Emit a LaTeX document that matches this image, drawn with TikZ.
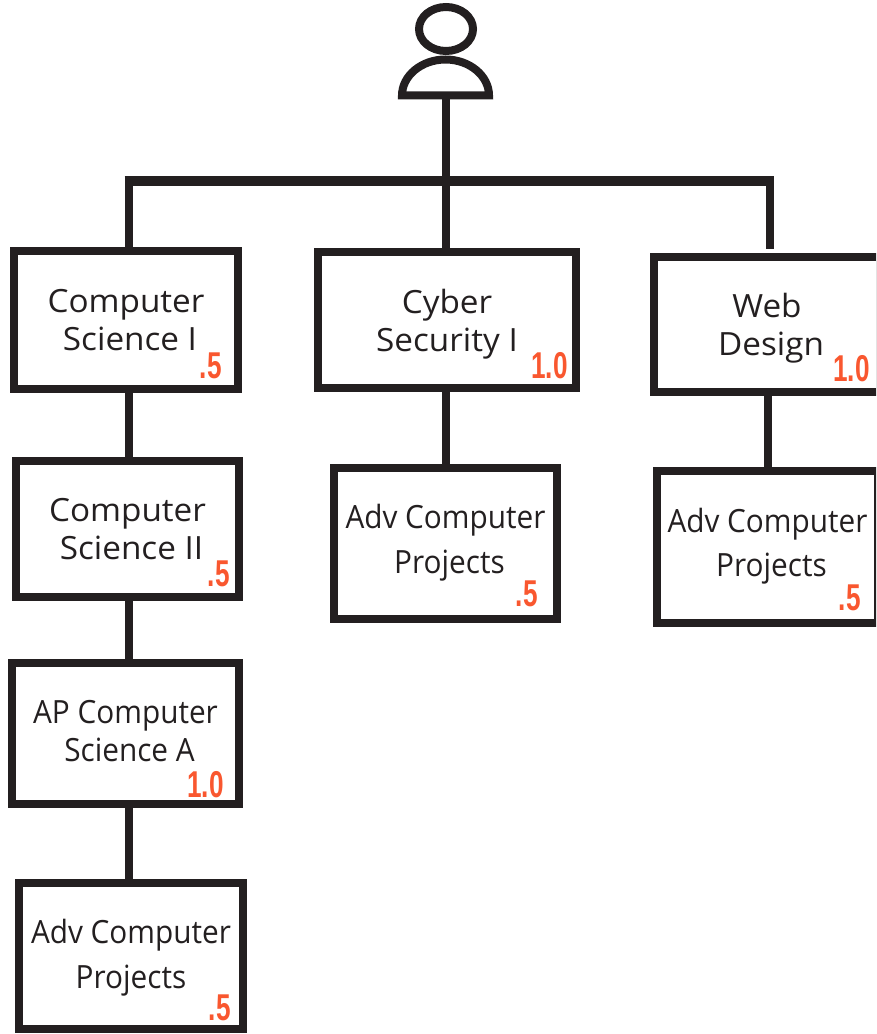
\documentclass[tikz,border=0pt]{standalone}
\usepackage{fontspec}
\setmainfont{Open Sans}
\newfontfamily\widefont[FakeStretch=1.04]{Open Sans}
\newfontfamily\slimfont[FakeStretch=.93]{Open Sans}
\newfontfamily\badgefont[FakeStretch=.7]{Liberation Sans}
\usetikzlibrary{shapes.geometric}
\definecolor{inkblack}{HTML}{231F20}
\definecolor{badgeorange}{HTML}{F9572F}
\newcommand{\nudge}{\hspace*{6pt}}
\tikzstyle{course} = [rectangle, draw=inkblack, line width=6pt, text=inkblack, align=center, text depth=0pt, font={\widefont\fontsize{24}{28.5}\selectfont}, inner sep=0pt]
\tikzstyle{apcourse} = [course, text depth=4.5pt, font={\slimfont\fontsize{24}{28.5}\selectfont}]
\tikzstyle{advcourse} = [course, text depth=7pt, font={\slimfont\fontsize{24}{33.5}\selectfont}]
\tikzstyle{badge} = [text=badgeorange, font={\badgefont\bfseries\fontsize{28}{28}\selectfont}, inner sep=0pt, anchor=base east]
\tikzstyle{link} = [draw=inkblack, line width=6pt]

\begin{document}
\begin{tikzpicture}[x=0.75pt,y=-0.75pt]
        \useasboundingbox (0,0) rectangle (876,1034);
        \clip (0,0) rectangle (876,1034);

        % person
        \node (head) [ellipse, draw=inkblack, line width=6pt, minimum width=40.5pt, minimum height=33pt, inner sep=0pt] at (446,29) {};
        \coordinate (bodyL) at (402,95.5);
        \coordinate (bodyM) at (445.5,95.5);
        \coordinate (bodyR) at (489,95.5);
        \draw [link] (bodyL) .. controls (402,75.7) and (421.6,59.5) .. (445.5,59.5) .. controls (469.4,59.5) and (489,75.7) .. (bodyR) -- cycle;

        % courses
        \node (csOne) [course, minimum width=168pt, minimum height=103.5pt] at (126,320) {Computer\\\nudge Science I};
        \node (csTwo) [course, minimum width=167pt, minimum height=102pt] at (127.5,529) {Computer\\\nudge Science II};
        \node (apCs) [apcourse, minimum width=170pt, minimum height=105.75pt] at (125.5,733.5) {AP Computer\\\nudge Science A};
        \node (advOne) [advcourse, text depth=3pt, minimum width=168pt, minimum height=109.5pt] at (131,956) {Adv Computer\\Projects};
        \node (cyber) [course, minimum width=193.5pt, minimum height=102pt] at (447,320) {Cyber\\Security I};
        \node (advTwo) [advcourse, minimum width=167pt, minimum height=113pt] at (445.5,543.5) {Adv Computer\\\nudge Projects};
        \node (web) [course, minimum width=170pt, minimum height=101pt] at (767,324.5) {Web\\\nudge Design};
        \node (advThree) [advcourse, minimum width=166pt, minimum height=114pt] at (767.5,547) {Adv Computer\\\nudge Projects};

        % credits
        \node (csOneCr) [badge] at (222,378) {.5};
        \node (csTwoCr) [badge] at (230,586) {.5};
        \node (apCr) [badge] at (224,797) {1.0};
        \node (advOneCr) [badge] at (231,1020) {.5};
        \node (cyberCr) [badge] at (568,378) {1.0};
        \node (advTwoCr) [badge] at (538,606) {.5};
        \node (webCr) [badge] at (870,381) {1.0};
        \node (advThreeCr) [badge] at (861,610) {.5};

        % bus
        \coordinate (busL) at (128.5,181);
        \coordinate (busM) at (445.5,181);
        \coordinate (busR) at (770,181);
        \coordinate (webStub) at (770,249);
        \coordinate (webDrop) at (768,181);
        \draw [link, line width=7.5pt] ([xshift=-3pt]busL) -- ([xshift=3pt]busR);
        \draw [link] (bodyM) -- (busM);
        \draw [link] (busL) -- (csOne.north -| busL);
        \draw [link] (busM) -- (cyber.north -| busM);
        \draw [link] (busR) -- (webStub);

        \draw [link] (csOne.south -| busL) -- (csTwo.north -| busL);
        \draw [link] (csTwo.south -| busL) -- (apCs.north -| busL);
        \draw [link] (apCs.south -| busL) -- (advOne.north -| busL);
        \draw [link] (cyber.south -| busM) -- (advTwo.north -| busM);
        \draw [link] (web.south -| webDrop) -- (advThree.north -| webDrop);
    \end{tikzpicture}
\end{document}
